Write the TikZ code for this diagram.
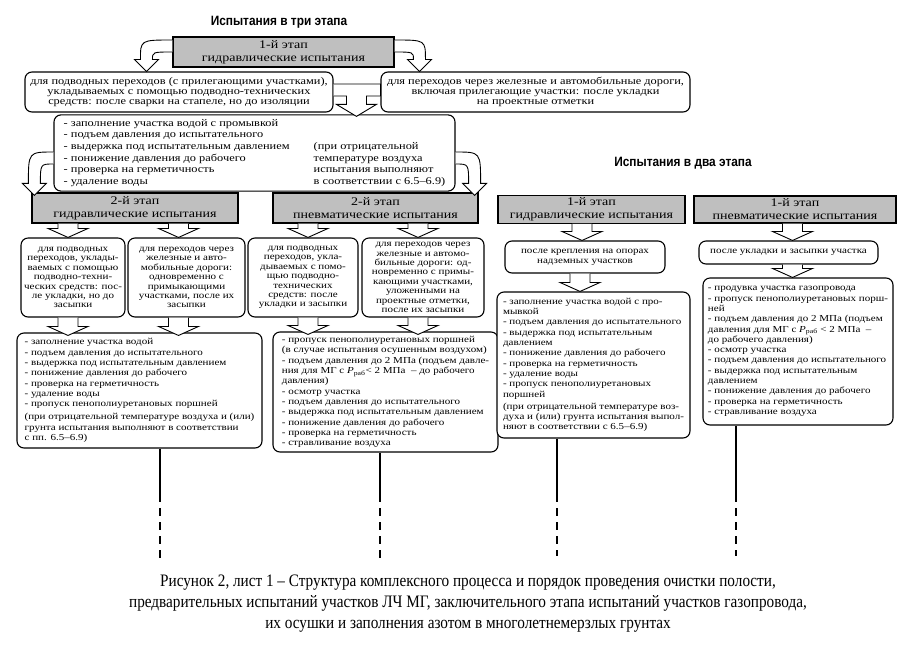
\documentclass[tikz,border=0pt]{standalone}
\usepackage{fontspec}
\setmainfont{Liberation Serif}
\newfontfamily\boxfont[FakeStretch=1.2]{Liberation Serif}
\newfontfamily\capfont[FakeStretch=0.87]{Liberation Serif}
\newfontfamily\headfont[FakeStretch=0.88]{Liberation Sans}
\usetikzlibrary{calc}

\tikzset{
  box/.style={draw, rounded corners=7pt, fill=white, inner sep=3pt, line width=1.1pt,
    font=\boxfont\fontsize{9.2}{10.3}\selectfont},
  widebox/.style={box, font=\boxfont\fontsize{10.3}{10.3}\selectfont},
  smallbox/.style={box, align=center, font=\boxfont\fontsize{9.2}{9.4}\selectfont},
  stage/.style={draw, fill=black!25, inner sep=2pt, line width=1.2pt, align=center,
    font=\boxfont\fontsize{11.7}{13}\selectfont},
  barrow/.style={draw, fill=white, line width=0.9pt},
  heading/.style={font=\headfont\bfseries\fontsize{13.5}{15}\selectfont},
  pipe/.style={line width=1.1pt},
  pipecut/.style={pipe, dash pattern=on 8pt off 6pt, dash phase=6pt}
}

% block arrow straight down, stem at x of #2
\newcommand{\blockdown}[2]{%
  \draw[barrow] let \p1=#1, \p2=#2 in
    (\x2-10pt,\y1) -- (\x2-10pt,\y2+9pt) -- (\x2-20pt,\y2+9pt) -- (\x2,\y2)
    -- (\x2+20pt,\y2+9pt) -- (\x2+10pt,\y2+9pt) -- (\x2+10pt,\y1);}
% hooked block arrows out of a box side
\newcommand{\hookleft}[2]{%
  \draw[barrow] let \p1=#1, \p2=#2 in
    (\x1,\y1+6pt) .. controls (\x2-6pt,\y1+6pt) .. (\x2-6pt,\y2+12pt)
    -- (\x2-12pt,\y2+12pt) -- (\x2,\y2) -- (\x2+12pt,\y2+12pt) -- (\x2+6pt,\y2+12pt)
    .. controls (\x2+6pt,\y1-6pt) .. (\x1,\y1-6pt);}
\newcommand{\hookright}[2]{%
  \draw[barrow] let \p1=#1, \p2=#2 in
    (\x1,\y1+6pt) .. controls (\x2+6pt,\y1+6pt) .. (\x2+6pt,\y2+12pt)
    -- (\x2+12pt,\y2+12pt) -- (\x2,\y2) -- (\x2-12pt,\y2+12pt) -- (\x2-6pt,\y2+12pt)
    .. controls (\x2-6pt,\y1-6pt) .. (\x1,\y1-6pt);}

\begin{document}
\begin{tikzpicture}[x=1pt, y=-1pt]
  \useasboundingbox (0,0) rectangle (918,662);

  \node[heading] (title3) at (279,22) {Испытания в три этапа};
  \node[stage, minimum width=221pt, minimum height=30pt] (s1) at (283.5,52)
    {1-й этап\\гидравлические испытания};
  \node[widebox, align=center, minimum width=308pt, minimum height=40pt] (a1) at (179,92)
    {для подводных переходов (с прилегающими участками),\\
     укладываемых с помощью подводно-технических\\
     средств: после сварки на стапеле, но до изоляции};
  \node[widebox, align=center, minimum width=309pt, minimum height=40pt] (a2) at (535.5,92)
    {для переходов через железные и автомобильные дороги,\\
     включая прилегающие участки: после укладки\\
     на проектные отметки};
  \node[widebox, font=\boxfont\fontsize{10.3}{11.7}\selectfont,
        minimum width=401pt, minimum height=76pt] (b) at (254.5,153)
    {\begin{tabular}{@{}p{250pt}@{}l@{}}
     - заполнение участка водой с промывкой & \\
     - подъем давления до испытательного & \\
     - выдержка под испытательным давлением & (при отрицательной\\
     - понижение давления до рабочего & температуре воздуха\\
     - проверка на герметичность & испытания выполняют\\
     - удаление воды & в соответствии с 6.5–6.9)
     \end{tabular}};

  \node[stage, minimum width=206pt, minimum height=30pt] (c1) at (135,208)
    {2-й этап\\гидравлические испытания};
  \node[stage, minimum width=205pt, minimum height=30pt] (c2) at (375.5,208)
    {2-й этап\\пневматические испытания};

  \node[smallbox, minimum width=96pt, minimum height=79pt] (d1) at (73,277.5)
    {для подводных\\переходов, уклады-\\ваемых с помощью\\подводно-техни-\\ческих средств: пос-\\ле укладки, но до\\засыпки};
  \node[smallbox, minimum width=117pt, minimum height=79pt] (d2) at (186.5,277.5)
    {для переходов через\\железные и авто-\\мобильные дороги:\\одновременно с\\примыкающими\\участками, после их\\засыпки};
  \node[smallbox, minimum width=110pt, minimum height=79pt] (d3) at (303,277.5)
    {для подводных\\переходов, укла-\\дываемых с помо-\\щью подводно-\\технических\\средств: после\\укладки и засыпки};
  \node[smallbox, minimum width=122pt, minimum height=79pt] (d4) at (423,277.5)
    {для переходов через\\железные и автомо-\\бильные дороги: од-\\новременно с примы-\\кающими участками,\\уложенными на\\проектные  отметки,\\после их засыпки};

  \node[box, align=left, minimum width=245pt, minimum height=115pt] (e1) at (139.5,390.5)
    {- заполнение участка водой\\
     - подъем давления до испытательного\\
     - выдержка под испытательным давлением\\
     - понижение давления до рабочего\\
     - проверка на герметичность\\
     - удаление воды\\
     - пропуск пенополиуретановых поршней\\[3pt]
     (при отрицательной температуре воздуха и (или)\\
     грунта испытания выполняют в соответствии\\
     с пп. 6.5–6.9)};
  \node[box, align=left, minimum width=225pt, minimum height=120pt] (e2) at (385.5,392)
    {- пропуск пенополиуретановых поршней\\
     (в случае испытания осушенным воздухом)\\
     - подъем давления до 2 МПа (подъем давле-\\
     ния для МГ с \textit{P}\textsubscript{раб}< 2 МПа \ – до рабочего\\
     давления)\\
     - осмотр участка\\
     - подъем давления до испытательного\\
     - выдержка под испытательным давлением\\
     - понижение давления до рабочего\\
     - проверка на герметичность\\
     - стравливание воздуха};

  \node[heading] (title2) at (683,163) {Испытания в два этапа};
  \node[stage, minimum width=187pt, minimum height=27pt] (f1) at (591.5,209.5)
    {1-й этап\\гидравлические испытания};
  \node[stage, minimum width=202pt, minimum height=27pt] (f2) at (795,209.5)
    {1-й этап\\пневматические испытания};
  \node[box, align=center, minimum width=160pt, minimum height=32pt] (g1) at (585,257)
    {после крепления на опорах\\надземных участков};
  \node[box, align=center, minimum width=179pt, minimum height=23pt] (g2) at (788.5,252.5)
    {после укладки и засыпки участка};
  \node[box, align=left, minimum width=193pt, minimum height=146pt] (h1) at (593.5,365)
    {- заполнение участка водой с про-\\
     мывкой\\
     - подъем давления до испытательного\\
     - выдержка под испытательным\\
     давлением\\
     - понижение давления до рабочего\\
     - проверка на герметичность\\
     - удаление воды\\
     - пропуск пенополиуретановых\\
     поршней\\[2pt]
     (при отрицательной температуре воз-\\
     духа и (или) грунта испытания выпол-\\
     няют в соответствии с 6.5–6.9)};
  \node[box, align=left, minimum width=190pt, minimum height=147pt] (h2) at (798,351.5)
    {- продувка участка газопровода\\
     - пропуск пенополиуретановых порш-\\
     ней\\
     - подъем давления до 2 МПа (подъем\\
     давления для МГ с \textit{P}\textsubscript{раб} < 2 МПа \ –\\
     до рабочего давления)\\
     - осмотр участка\\
     - подъем давления до испытательного\\
     - выдержка под испытательным\\
     давлением\\
     - понижение давления до рабочего\\
     - проверка на герметичность\\
     - стравливание воздуха};

  \node[align=center, font=\capfont\fontsize{17.5}{21}\selectfont] (caption) at (468,604)
    {Рисунок 2, лист 1 – Структура комплексного процесса и порядок проведения очистки полости,\\
     предварительных испытаний участков ЛЧ МГ, заключительного этапа испытаний участков газопровода,\\
     их осушки и заполнения азотом в многолетнемерзлых грунтах};

  \hookleft{([yshift=6pt]s1.west)}{([xshift=122pt]a1.north west)}
  \hookright{([yshift=6pt]s1.east)}{([xshift=39pt]a2.north west)}
  \draw[barrow] let \p1=([yshift=2pt]a1.east), \p2=([yshift=2pt]a2.west),
      \p3=([xshift=303pt,yshift=-2pt]b.north west) in
    (\x1,\y1+6pt) -- (\x2,\y1+6pt) -- (\x2,\y1-6pt) -- (\x3+10pt,\y1-6pt)
    -- (\x3+10pt,\y3+12pt) -- (\x3+20pt,\y3+12pt) -- (\x3,\y3) -- (\x3-20pt,\y3+12pt)
    -- (\x3-10pt,\y3+12pt) -- (\x3-10pt,\y1-6pt) -- (\x1,\y1-6pt);
  \hookleft{([yshift=-5pt]b.west)}{([xshift=3pt,yshift=-3pt]c1.north west)}
  \hookright{([yshift=-5pt]b.east)}{([xshift=-4pt,yshift=-3pt]c2.north east)}

  \blockdown{(c1.south)}{($(d1.north)+(-5,0)$)}
  \blockdown{(c1.south)}{($(d2.north)+(-8,0)$)}
  \blockdown{(c2.south)}{($(d3.north)+(5,0)$)}
  \blockdown{(c2.south)}{($(d4.north)+(-5,0)$)}
  \blockdown{(d1.south)}{($(d1.south |- e1.north)+(-5,3)$)}
  \blockdown{(d2.south)}{($(d2.south |- e1.north)+(-8,3)$)}
  \blockdown{(d3.south)}{($(d3.south |- e2.north)+(5,3)$)}
  \blockdown{(d4.south)}{($(d4.south |- e2.north)+(-5,3)$)}
  \blockdown{(f1.south)}{($(g1.north)+(-3,0)$)}
  \blockdown{(g1.south)}{($(g1.south |- h1.north)+(-5,0)$)}
  \blockdown{(f2.south)}{($(g2.north)+(4,0)$)}
  \blockdown{(g2.south)}{($(g2.south |- h2.north)+(4,0)$)}

  \coordinate (e1cut) at (160,500);  \coordinate (e1end) at (160,558);
  \coordinate (e2cut) at (380,500);  \coordinate (e2end) at (380,558);
  \coordinate (h1cut) at (557,500);  \coordinate (h1end) at (557,556);
  \coordinate (h2cut) at (736,500);  \coordinate (h2end) at (736,556);
  \draw[pipe] (e1.south -| e1cut) -- (e1cut);  \draw[pipecut] (e1cut) -- (e1end);
  \draw[pipe] (e2.south -| e2cut) -- (e2cut);  \draw[pipecut] (e2cut) -- (e2end);
  \draw[pipe] (h1.south -| h1cut) -- (h1cut);  \draw[pipecut] (h1cut) -- (h1end);
  \draw[pipe] (h2.south -| h2cut) -- (h2cut);  \draw[pipecut] (h2cut) -- (h2end);
\end{tikzpicture}
\end{document}
